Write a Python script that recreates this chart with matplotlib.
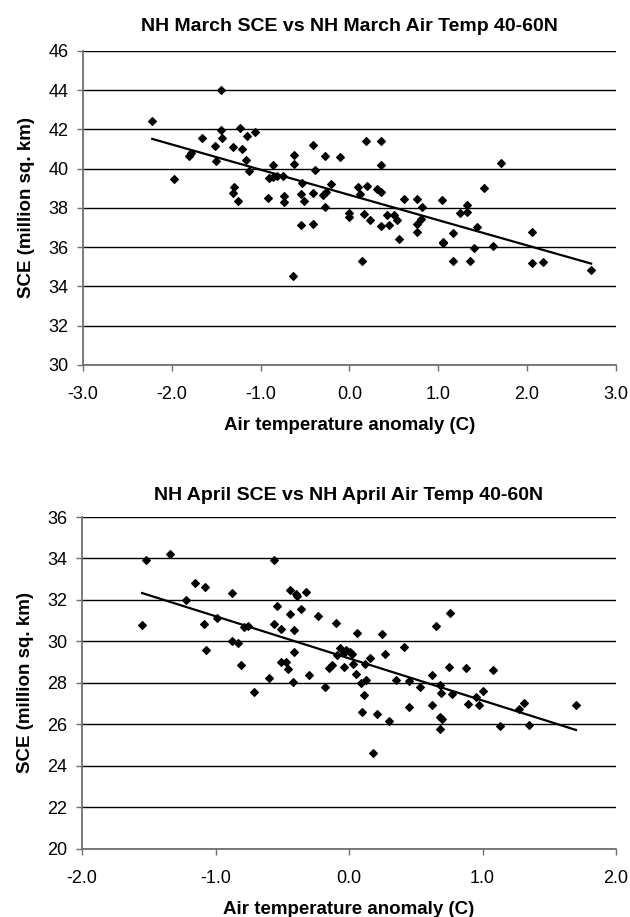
import numpy as np
import matplotlib
matplotlib.use("Agg")
import matplotlib.pyplot as plt

plt.rcParams['font.family'] = ['Liberation Sans', 'DejaVu Sans']

# March: air temperature anomaly (C) vs SCE (million sq. km)
march_temp = [
    -2.22, -1.98, -1.81, -1.78, -1.66, -1.51, -1.50, -1.45, -1.45, -1.44,
    -1.31, -1.30, -1.31, -1.25, -1.23, -1.21, -1.17, -1.15, -1.13, -1.06,
    -0.92, -0.91, -0.86, -0.86, -0.82, -0.75, -0.74, -0.74, -0.62, -0.62,
    -0.55, -0.53, -0.51, -0.55, -0.41, -0.39, -0.41, -0.41, -0.28, -0.27,
    -0.30, -0.26, -0.21, -0.11, 0.19, 0.36, 0.35, 0.10, 0.20, 0.12,
    0.31, 0.36, 0.61, 0.76, 0.82, 1.04, 1.52, 1.71, 1.32, 1.25,
    1.32, 1.44, 2.06, 0.00, 0.00, 0.16, 0.23, 0.36, 0.44, 0.42,
    0.50, 0.54, 0.80, 0.76, 0.76, 1.17, 0.14, 0.56, 1.05, 1.05,
    1.17, 1.36, 1.40, 1.62, 2.06, 2.18, 2.72, -0.63,
]
march_sce = [
    42.42, 39.50, 40.64, 40.78, 41.57, 41.15, 40.40, 44.00, 41.96, 41.56,
    41.12, 39.08, 38.77, 38.35, 42.07, 40.98, 40.44, 41.69, 39.88, 41.88,
    38.49, 39.54, 40.17, 39.56, 39.62, 39.62, 38.61, 38.28, 40.68, 40.23,
    38.71, 39.25, 38.35, 37.13, 41.22, 39.93, 38.77, 37.20, 38.03, 40.66,
    38.66, 38.81, 39.22, 40.61, 41.39, 41.39, 40.17, 39.08, 39.13, 38.72,
    38.98, 38.82, 38.47, 38.47, 38.05, 38.40, 39.03, 40.29, 38.13, 37.76,
    37.79, 37.01, 36.76, 37.76, 37.55, 37.67, 37.37, 37.08, 37.13, 37.62,
    37.62, 37.38, 37.43, 37.20, 36.76, 36.71, 35.30, 36.40, 36.25, 36.20,
    35.30, 35.30, 35.98, 36.05, 35.18, 35.25, 34.82, 34.52,
]

# April: air temperature anomaly (C) vs SCE (million sq. km)
april_temp = [
    -1.52, -1.55, -1.34, -1.22, -1.15, -1.08, -1.09, -1.07, -0.99, -0.88,
    -0.88, -0.83, -0.81, -0.79, -0.76, -0.71, -0.60, -0.56, -0.54, -0.56,
    -0.51, -0.51, -0.47, -0.46, -0.42, -0.41, -0.41, -0.44, -0.44, -0.40,
    -0.39, -0.32, -0.36, -0.30, -0.23, -0.18, -0.15, -0.13, -0.10, -0.09,
    -0.07, -0.04, -0.02, 0.01, 0.02, -0.04, 0.03, 0.06, 0.05, 0.09,
    0.12, 0.13, 0.11, 0.16, 0.25, 0.27, 0.41, 0.35, 0.45, 0.53,
    0.62, 0.65, 0.76, 0.75, 0.88, 1.08, 0.68, 0.69, 0.77, 1.00,
    0.10, 0.21, 0.30, 0.18, 0.45, 0.62, 0.68, 0.70, 0.68, 0.89,
    0.95, 0.97, 1.13, 1.27, 1.31, 1.35, 1.70,
]
april_sce = [
    33.93, 30.80, 34.23, 31.98, 32.82, 32.63, 30.86, 29.60, 31.11, 32.34,
    30.02, 29.91, 28.85, 30.70, 30.76, 27.55, 28.22, 33.93, 31.73, 30.84,
    30.60, 29.01, 29.01, 28.69, 28.06, 29.47, 30.55, 32.50, 31.33, 32.30,
    32.17, 32.39, 31.57, 28.37, 31.21, 27.82, 28.70, 28.85, 30.89, 29.33,
    29.69, 29.45, 29.57, 29.47, 29.41, 28.79, 28.93, 30.41, 28.43, 28.00,
    28.93, 28.16, 27.40, 29.19, 30.38, 29.41, 29.72, 28.13, 28.11, 27.82,
    28.37, 30.73, 31.35, 28.77, 28.70, 28.64, 27.90, 27.52, 27.47, 27.63,
    26.58, 26.52, 26.17, 24.64, 26.82, 26.94, 26.36, 26.25, 25.80, 27.00,
    27.33, 26.92, 25.94, 26.76, 27.05, 25.99, 26.94,
]

march_xticks = [-3.0, -2.0, -1.0, 0.0, 1.0, 2.0, 3.0]
march_yticks = [30, 32, 34, 36, 38, 40, 42, 44, 46]
april_xticks = [-2.0, -1.0, 0.0, 1.0, 2.0]
april_yticks = [20, 22, 24, 26, 28, 30, 32, 34, 36]


def scatter_panel(ax, x, y, xticks, yticks, title, title_pad):
    x = np.array(x)
    y = np.array(y)
    ax.set_axisbelow(True)
    ax.yaxis.grid(True, color="black", linewidth=1.0)
    ax.plot(x, y, linestyle="none", marker="D", markersize=3.8,
            markeredgewidth=0.8, color="black", zorder=3)
    # linear trend line
    m, b = np.polyfit(x, y, 1)
    xs = np.array([x.min(), x.max()])
    ax.plot(xs, m * xs + b, color="black", linewidth=1.6, zorder=4)

    ax.set_xlim(xticks[0], xticks[-1])
    ax.set_ylim(yticks[0], yticks[-1])
    ax.set_xticks(xticks)
    ax.set_xticklabels([f"{t:.1f}" for t in xticks])
    ax.set_yticks(yticks)
    ax.set_yticklabels([str(t) for t in yticks])
    ax.tick_params(labelsize=13, color="#707070", length=4.5, width=1)
    ax.tick_params(axis="x", pad=11)
    ax.tick_params(axis="y", pad=6)
    for s in ["top", "right"]:
        ax.spines[s].set_visible(False)
    for s in ["left", "bottom"]:
        ax.spines[s].set_color("#707070")
        ax.spines[s].set_linewidth(1.3)
    ax.set_title(title, fontsize=14, fontweight="bold", pad=title_pad)
    ax.set_xlabel("Air temperature anomaly (C)", fontsize=13.5,
                  fontweight="bold", labelpad=10)
    ax.set_ylabel("SCE (million sq. km)", fontsize=13.5,
                  fontweight="bold", labelpad=9.5)


fig = plt.figure(figsize=(6.3, 9.17), dpi=100)
ax1 = fig.add_axes([0.1317, 0.6020, 0.846, 0.3424])
ax2 = fig.add_axes([0.1302, 0.0742, 0.8476, 0.3620])

scatter_panel(ax1, march_temp, march_sce, march_xticks, march_yticks,
              "NH March SCE vs NH March Air Temp 40-60N", 14.5)
scatter_panel(ax2, april_temp, april_sce, april_xticks, april_yticks,
              "NH April SCE vs NH April Air Temp 40-60N", 12)

fig.savefig("out.png", dpi=100)
